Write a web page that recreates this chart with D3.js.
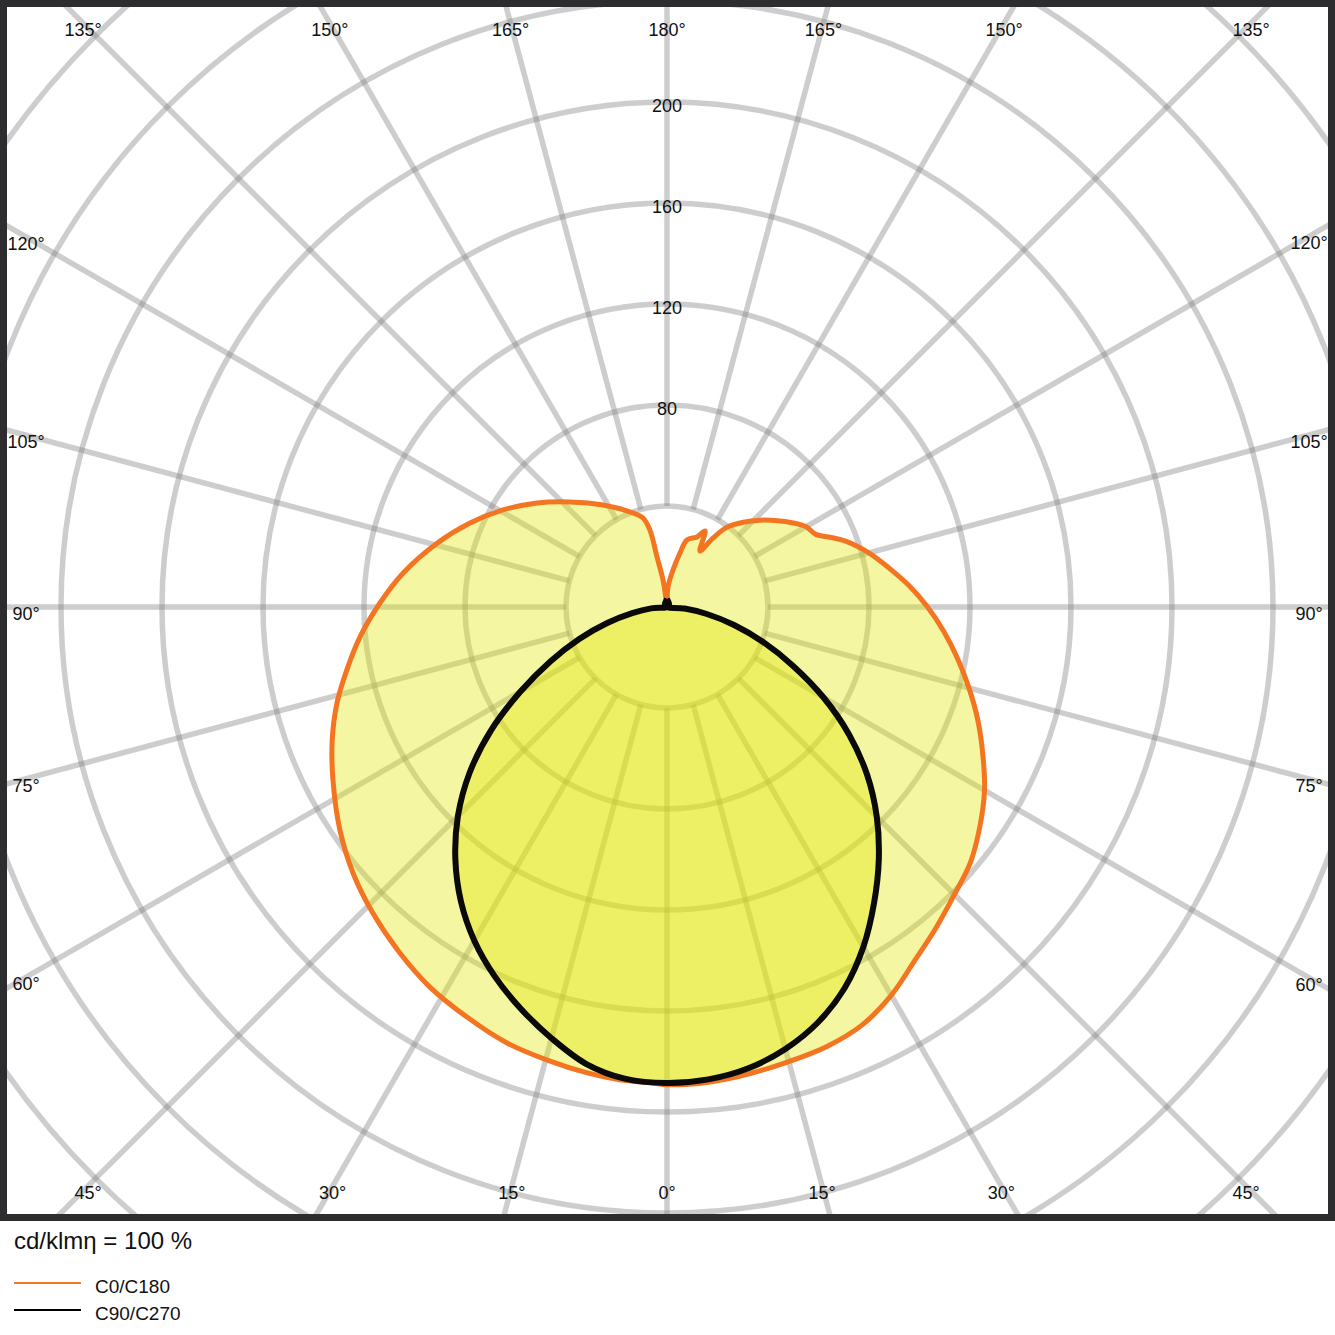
<!DOCTYPE html>
<html><head><meta charset="utf-8">
<script src="https://cdn.jsdelivr.net/npm/d3@7"></script>
<style>body{margin:0;background:#fff} svg{display:block}</style>
</head><body>
<script>
// ---- data ----
const ringValues = [40, 80, 120, 160, 200, 240, 280, 320, 360];
const ringLabels = [80, 120, 160, 200];
const spokeAngles = d3.range(0, 360, 15);
const angleLabels = [0, 15, 30, 45, 60, 75, 90, 105, 120, 135, 150, 165, 180];

// C0/C180 (orange) – right half C0, left half C180; gamma in degrees from nadir, value in cd/klm
const c0Angles = [0, 5, 10, 15, 20, 25, 30, 35, 40, 45, 50, 55, 60, 65, 70, 75, 80, 85, 90, 95, 100, 105, 110, 113, 116, 120, 124, 128, 133, 138, 143, 146.3, 149.5, 153.4, 156.8, 163.4, 166.5, 170.8, 177.1, 180];
const c0Values = [189.2, 188.9, 187.7, 186.4, 185.2, 182.7, 177.6, 171.0, 165.8, 161.0, 157.0, 151.3, 145.2, 138.0, 131.0, 123.8, 116.8, 110.0, 103.2, 96.3, 89.2, 82.8, 75.8, 70.5, 65.6, 63.6, 59.7, 55.5, 50.4, 45.2, 39.6, 32.8, 25.7, 33.7, 30.2, 27.7, 22.0, 14.8, 7.9, 0];
const c180Angles = [0, 1.7, 5.7, 9.7, 14.8, 20.2, 26.0, 32.0, 37.7, 43.9, 49.7, 55.7, 62.6, 68.3, 73.8, 78.9, 84.4, 90.8, 97.3, 105.5, 113.1, 120.6, 128.7, 137.3, 147.9, 158.7, 164.9, 167.5, 168.7, 171.6, 180];
const c180Values = [189.2, 188.6, 188.2, 187.2, 185.6, 183.9, 180.7, 177.4, 173.1, 168.1, 163.0, 156.8, 149.0, 142.7, 136.1, 129.2, 122.2, 113.7, 105.4, 94.5, 84.8, 75.5, 65.9, 56.6, 47.7, 40.4, 36.5, 31.2, 20.2, 10.8, 0];

// C90/C270 (black)
const c90Angles = [0, 5, 10, 15, 20, 25, 30, 35, 40, 45, 50, 55, 60, 65, 70, 75, 80, 85, 90, 135, 180];
const c90Values = [188.5, 187.8, 185.5, 181.2, 175.0, 166.5, 155.5, 143.0, 130.5, 117.5, 103.5, 88.0, 71.5, 55.0, 40.5, 27.5, 16.0, 7.0, 0, 1.2, 3.2];
const c270Angles = [0, 5, 10, 15, 20, 25, 30, 35, 40, 45, 50, 55, 60, 65, 70, 75, 80, 85, 90, 135, 180];
const c270Values = [188.6, 187.6, 183.8, 176.8, 169.3, 161.4, 152.6, 142.3, 130.4, 117.1, 102.0, 85.0, 67.0, 51.0, 37.0, 24.5, 14.0, 6.3, 0, 1.2, 3.2];

const legendItems = ["C0/C180", "C90/C270"];
const unitText = "cd/klmη = 100 %";

// ---- layout ----
const W = 1335, H = 1335;
const cx = 667, cy = 607;
const frame = {x1: 1335, y1: 1221, bw: 7};
const font = "'Liberation Sans', Arial, sans-serif";

const r = d3.scaleLinear().domain([0, 40]).range([0, 101]);

const svg = d3.select("body").append("svg").attr("width", W).attr("height", H)
  .style("font-family", font);
svg.append("rect").attr("width", W).attr("height", H).attr("fill", "#fff");

const defs = svg.append("defs");
defs.append("clipPath").attr("id", "clip").append("rect")
  .attr("x", frame.bw).attr("y", frame.bw)
  .attr("width", frame.x1 - 2 * frame.bw).attr("height", frame.y1 - 2 * frame.bw);

const plot = svg.append("g").attr("clip-path", "url(#clip)");
const g = plot.append("g").attr("transform", `translate(${cx},${cy})`);

const gridColor = "rgba(130,130,130,0.4)";
g.selectAll("circle.ring").data(ringValues).join("circle")
  .attr("r", d => r(d)).attr("fill", "none")
  .attr("stroke", gridColor).attr("stroke-width", 5.5);
const rad = d => d * Math.PI / 180;
g.selectAll("line.spoke").data(spokeAngles).join("line")
  .attr("x1", d => r(40) * Math.sin(rad(d))).attr("y1", d => r(40) * Math.cos(rad(d)))
  .attr("x2", d => r(420) * Math.sin(rad(d))).attr("y2", d => r(420) * Math.cos(rad(d)))
  .attr("stroke", gridColor).attr("stroke-width", 5.5);

function buildPts(rightA, rightV, leftA, leftV) {
  const pts = [];
  for (let i = rightA.length - 1; i >= 0; i--) pts.push([Math.PI - rad(rightA[i]), r(rightV[i])]);
  for (let i = 1; i < leftA.length; i++) pts.push([Math.PI + rad(leftA[i]), r(leftV[i])]);
  return pts;
}
const radial = d3.lineRadial().angle(d => d[0]).radius(d => d[1]).curve(d3.curveCatmullRom.alpha(0.5));
const fillColor = "rgba(224,230,0,0.37)";

const orangePts = buildPts(c0Angles, c0Values, c180Angles, c180Values);
const blackPts = buildPts(c90Angles, c90Values, c270Angles, c270Values);

g.append("path").attr("d", radial(orangePts)).attr("fill", fillColor).attr("stroke", "none");
g.append("path").attr("d", radial(blackPts)).attr("fill", fillColor).attr("stroke", "none");
g.append("path").attr("d", radial(orangePts)).attr("fill", "none")
  .attr("stroke", "#f37521").attr("stroke-width", 5).attr("stroke-linejoin", "round");
g.append("path").attr("d", radial(blackPts)).attr("fill", "none")
  .attr("stroke", "#0a0a0a").attr("stroke-width", 6).attr("stroke-linejoin", "miter")
  .attr("stroke-miterlimit", 10);

// ring labels
const fs = 18;
plot.selectAll("text.ring").data(ringLabels).join("text")
  .attr("x", cx).attr("y", d => cy - r(d) + 10)
  .attr("text-anchor", "middle").attr("font-size", fs).attr("fill", "#111")
  .text(d => d);

// angle labels
const box = {x0: 26, x1: 1309, y0: 23, y1: 1186};
const lbls = [];
angleLabels.forEach(a => {
  [1, -1].forEach(s => {
    if ((a === 0 || a === 180) && s === -1) return;
    const dx = s * Math.sin(rad(a)), dy = Math.cos(rad(a));
    let t = Infinity;
    if (Math.abs(dx) > 1e-9) t = Math.min(t, dx > 0 ? (box.x1 - cx) / dx : (box.x0 - cx) / dx);
    if (Math.abs(dy) > 1e-9) t = Math.min(t, dy > 0 ? (box.y1 - cy) / dy : (box.y0 - cy) / dy);
    lbls.push({a, x: cx + t * dx, y: cy + t * dy});
  });
});
plot.selectAll("text.ang").data(lbls).join("text")
  .attr("x", d => d.x).attr("y", d => d.y + 0.72 * fs)
  .attr("text-anchor", "middle").attr("font-size", fs).attr("fill", "#111")
  .text(d => d.a + "°");

// frame
svg.append("rect")
  .attr("x", frame.bw / 2).attr("y", frame.bw / 2)
  .attr("width", frame.x1 - frame.bw).attr("height", frame.y1 - frame.bw)
  .attr("fill", "none").attr("stroke", "#2d2d30").attr("stroke-width", frame.bw);

// unit text
svg.append("text").attr("x", 14).attr("y", 1249).attr("font-size", 24).attr("fill", "#111").text(unitText);

// legend
const legColors = ["#f37521", "#000"];
const leg = svg.selectAll("g.leg").data(legendItems).join("g")
  .attr("transform", (d, i) => `translate(14,${1283 + i * 27})`);
leg.append("line").attr("x1", 0).attr("x2", 67).attr("y1", 0).attr("y2", 0)
  .attr("stroke", (d, i) => legColors[i]).attr("stroke-width", 2);
leg.append("text").attr("x", 81).attr("y", 10).attr("font-size", 19).attr("fill", "#111").text(d => d);
</script>
</body></html>
